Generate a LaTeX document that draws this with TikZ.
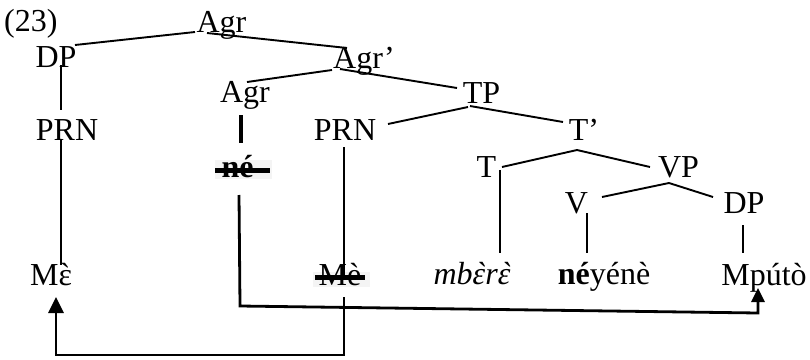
\documentclass[tikz,border=0pt]{standalone}
\usepackage{fontspec}
\setmainfont{Liberation Serif}
% same face without the TeX ligature mapping, for a plain grave accent glyph
\newfontfamily\plainrm{Liberation Serif}
\newcommand\grv[2][0pt]{\ooalign{#2\cr\hidewidth\kern#1{\plainrm`}\hidewidth}}
\usetikzlibrary{calc,arrows.meta,backgrounds}
\begin{document}
\begin{tikzpicture}[x=1pt,y=-1pt,
  lbl/.style={inner sep=0pt,anchor=base,font=\fontsize{32}{37}\selectfont},
  edge/.style={line width=1.9pt},
  move/.style={line width=2.8pt},
  strike/.style={line width=5pt}]
\useasboundingbox (0,0) rectangle (810,359);

% example number
\node[lbl,anchor=base west] (num) at (4,31) {(23)};

% tree labels
\node[lbl] (agrTop) at (221.5,32) {Agr};
\node[lbl] (dpL)    at (56,67)    {DP};
\node[lbl] (agrP)   at (364,68)   {Agr’};
\node[lbl] (agrM)   at (245,102)  {Agr};
\node[lbl] (tp)     at (481.5,103){TP};
\node[lbl] (prnL)   at (67,140)   {PRN};
\node[lbl] (prnM)   at (345,140)  {PRN};
\node[lbl] (tbar)   at (584,140)  {T’};
\node[lbl] (t)      at (486.5,177){T};
\node[lbl] (vp)     at (678.5,177){VP};
\node[lbl] (ne)     at (237.5,177){\bfseries né};
\node[lbl] (v)      at (576.5,213){V};
\node[lbl] (dpR)    at (744,213)  {DP};

% terminal words
\node[lbl] (me1)    at (51,285)   {M\grv{ɛ}};
\node[lbl] (me2)    at (340,285)  {Mè};
\node[lbl] (mbere)  at (472,284)  {\itshape mb\grv[2pt]{ɛ}r\grv[2pt]{ɛ}};
\node[lbl] (neyene) at (604,284)  {{\bfseries né}yénè};
\node[lbl] (mputo)  at (764,285)  {Mpútò};

% faint shading behind the deleted copies
\begin{scope}[on background layer]
  \fill[gray!9] ($(ne.base)+(-23,-17)$) rectangle ($(ne.base)+(34,2)$);
  \fill[gray!9] ($(me2.base)+(-27,-13)$) rectangle ($(me2.base)+(30,2)$);
\end{scope}

% strike-through bars
\draw[strike] ($(ne.base)+(-22.5,-7)$) -- ($(ne.base)+(32.5,-7)$);
\draw[strike] ($(me2.base)+(-25,-7.5)$) -- ($(me2.base)+(25,-7.5)$);

% branches
\draw[edge] ($(agrTop.base)+(-26.5,0)$) -- ($(dpL.base)+(19,-22)$);
\draw[edge] ($(agrTop.base)+(-14.5,1)$) -- ($(agrP.base)+(-17,-20)$);
\draw[edge] ($(dpL.base)+(5,-2)$) -- ($(prnL.base)+(-6,-30)$);
\draw[edge] ($(prnL.base)+(-6,0)$) -- ($(me1.base)+(10,-20)$);
\draw[edge] ($(agrP.base)+(-32,2)$) -- ($(agrM.base)+(2,-20)$);
\draw[edge] ($(agrP.base)+(-24,1)$) -- ($(tp.base)+(-24.5,-15)$);
\draw[line width=4pt] ($(agrM.base)+(-4,13)$) -- ($(ne.base)+(3.5,-34)$);
\draw[edge] ($(tp.base)+(-13.5,4)$) -- ($(prnM.base)+(43,-16)$);
\draw[edge] ($(tp.base)+(-11.5,3)$) -- ($(tbar.base)+(-21,-18)$);
\draw[edge] ($(tbar.base)+(-7,10)$) -- ($(t.base)+(15.5,-10)$);
\draw[edge] ($(tbar.base)+(-7,10)$) -- ($(vp.base)+(-28.5,-10)$);
\draw[edge] ($(t.base)+(13.5,-7)$) -- ($(mbere.base)+(28,-31)$);
\draw[edge] ($(vp.base)+(-9.5,6)$) -- ($(v.base)+(25.5,-16)$);
\draw[edge] ($(vp.base)+(-9.5,6)$) -- ($(dpR.base)+(-31,-16)$);
\draw[edge] ($(v.base)+(10.5,0)$) -- ($(neyene.base)+(-17,-31)$);
\draw[edge] ($(dpR.base)+(-1,12)$) -- ($(mputo.base)+(-21,-32)$);
\draw[edge] ($(prnM.base)+(-1,7)$) -- ($(me2.base)+(4,-8)$);

% movement arrows
\draw[move,-{Triangle[width=15pt,length=16pt]}]
  ($(me2.base)+(4,12)$) -- ($(me2.base)+(4,70)$) -| ($(me1.base)+(5,12)$);
\draw[move,-{Triangle[width=13pt,length=14pt]}]
  ($(ne.base)+(1.5,18)$) -- ($(ne.base)+(2.5,129)$)
  -- ($(mputo.base)+(-6,28)$) -- ($(mputo.base)+(-6,3)$);
\end{tikzpicture}
\end{document}
